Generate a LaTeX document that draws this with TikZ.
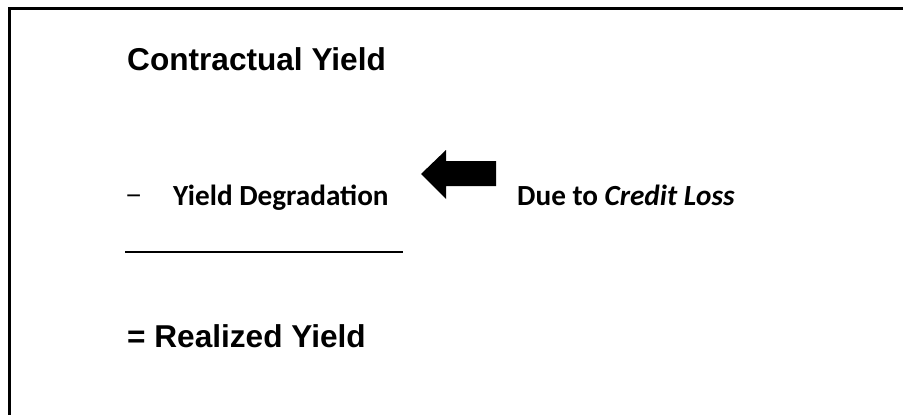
\documentclass[tikz,border=0pt]{standalone}
\usepackage{fontspec}
\setmainfont{Liberation Sans}
\newfontfamily\calib{Carlito}
\begin{document}
\begin{tikzpicture}[x=1pt,y=-1pt,
  headtxt/.style={anchor=base west,inner sep=0pt,font=\fontsize{31.6}{36}\selectfont\bfseries},
  bodytxt/.style={anchor=base west,inner sep=0pt,font=\calib\fontsize{29.2}{33}\selectfont\bfseries}]
\useasboundingbox (0,0) rectangle (903,415);
\clip (0,0) rectangle (903,415);
\fill[white] (0,0) rectangle (903,415);
\draw[line width=3pt] (9,430) -- (9,8.5) -- (920,8.5);
\node[headtxt] (cy) at (127,70) {Contractual Yield};
\node[anchor=base west,inner sep=0pt,font=\fontsize{26}{30}\selectfont] (mn) at (126,204) {−};
\node[bodytxt] (yd) at (173,205) {Yield Degradation};
\node[bodytxt] (dc) at (517,205) {Due to \textit{Credit Loss}};
\fill (421,174) -- (446,150) -- (446,161) -- (496,161) -- (496,186) -- (446,186) -- (446,199) -- cycle;
\coordinate (ul1) at (125,252);
\coordinate (ul2) at (403,252);
\draw[line width=1.5pt] (ul1) -- (ul2);
\node[headtxt] (ry) at (127,347) {= Realized Yield};
\end{tikzpicture}
\end{document}
